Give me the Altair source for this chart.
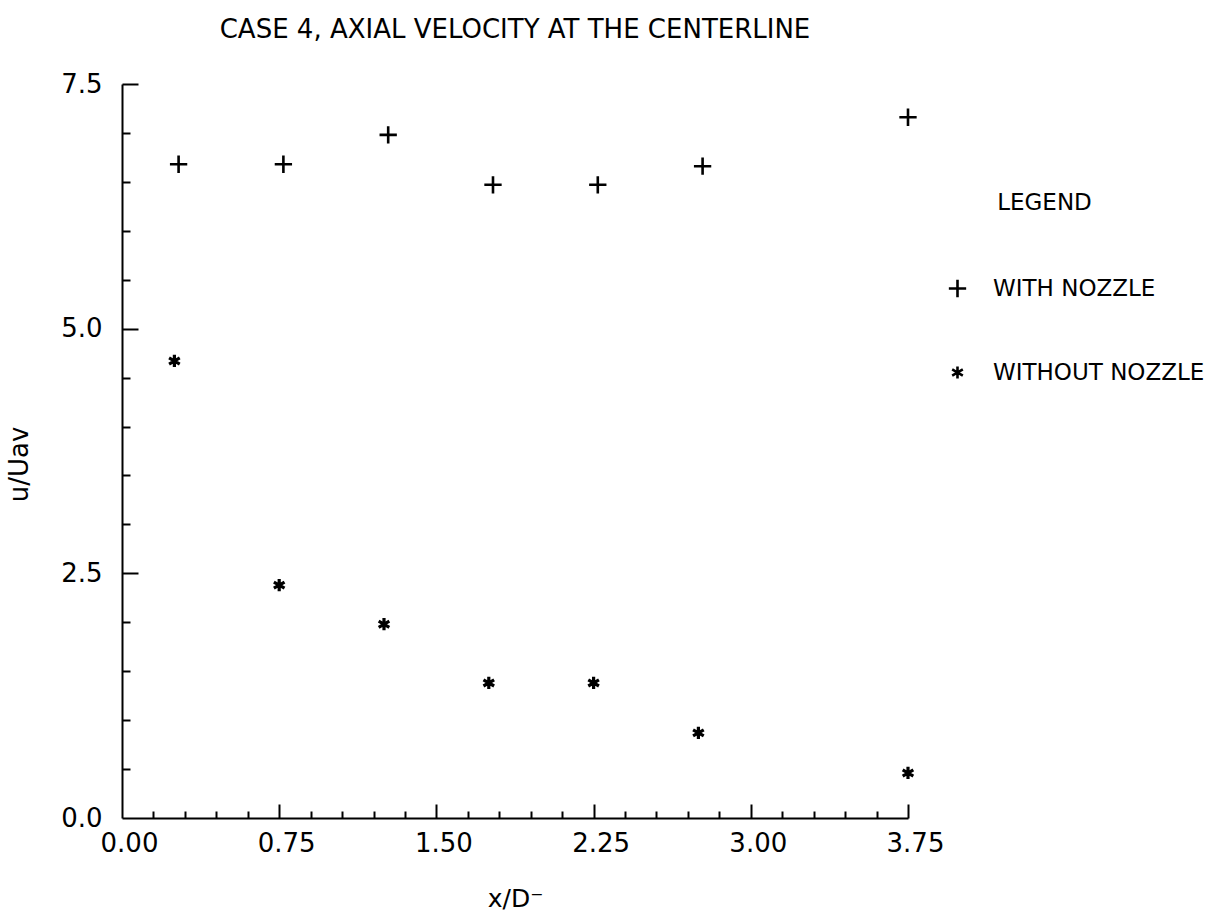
import altair as alt
import pandas as pd

# ---- data ----
series_names = ["WITH NOZZLE", "WITHOUT NOZZLE"]
x_with = [0.27, 0.77, 1.27, 1.77, 2.27, 2.77, 3.75]
y_with = [6.68, 6.68, 6.98, 6.47, 6.47, 6.66, 7.16]
x_without = [0.25, 0.75, 1.25, 1.75, 2.25, 2.75, 3.75]
y_without = [4.67, 2.38, 1.98, 1.38, 1.38, 0.87, 0.46]

x_label_values = [0.0, 0.75, 1.5, 2.25, 3.0, 3.75]
y_label_values = [0.0, 2.5, 5.0, 7.5]
x_tick_values = [0.15, 0.3, 0.45, 0.6, 0.75, 0.9, 1.05, 1.2, 1.35, 1.5, 1.65,
                 1.8, 1.95, 2.1, 2.25, 2.4, 2.55, 2.7, 2.85, 3.0, 3.15, 3.3,
                 3.45, 3.6, 3.75]
y_tick_values = [0.5, 1.0, 1.5, 2.0, 2.5, 3.0, 3.5, 4.0, 4.5, 5.0, 5.5, 6.0,
                 6.5, 7.0, 7.5]

df = pd.DataFrame({
    "x": x_with + x_without,
    "y": y_with + y_without,
    "series": [series_names[0]] * len(x_with) + [series_names[1]] * len(x_without),
})

PLUS = "M-1,0L1,0M0,-1L0,1"
STAR = "M0,-1L0,1M-0.87,-0.5L0.87,0.5M-0.87,0.5L0.87,-0.5"

FONT = "DejaVu Sans"
W, H = 786, 734

xscale = alt.Scale(domain=[0, 3.75], nice=False, zero=False)
yscale = alt.Scale(domain=[0, 7.5], nice=False, zero=False)
shape_scale = alt.Scale(domain=series_names, range=[PLUS, STAR])
size_scale = alt.Scale(domain=series_names, range=[300, 150])

legend = alt.Legend(
    title="\u200b" + "\u00a0" * 7 + "LEGEND",
    orient="none", legendX=824, legendY=108,
    titleFont=FONT, titleFontSize=23, titleFontWeight="normal", titleColor="black",
    titlePadding=62, titleAnchor="start",
    labelFont=FONT, labelFontSize=23, labelColor="black", labelLimit=0,
    labelOffset=24, rowPadding=58, padding=0,
    symbolStrokeColor="black", symbolFillColor="transparent",
    symbolStrokeWidth=2.6,
)

main_x_axis = alt.Axis(
    values=x_label_values, format=".2f", ticks=False, grid=False,
    domain=True, domainColor="black", domainWidth=2,
    labelFont=FONT, labelFontSize=26, labelColor="black",
    labelPadding=12, labelOffset=7, labelFlush=False, labelOverlap=False,
    title="x/D\u207b", titleFont=FONT, titleFontSize=25, titleFontWeight="normal",
    titleColor="black", titlePadding=30,
)
main_y_axis = alt.Axis(
    values=y_label_values, format=".1f", ticks=False, grid=False,
    domain=True, domainColor="black", domainWidth=2,
    labelFont=FONT, labelFontSize=26, labelColor="black",
    labelPadding=20, labelFlush=False, labelOverlap=False,
    title="u/Uav", titleFont=FONT, titleFontSize=26, titleFontWeight="normal",
    titleColor="black", titlePadding=28, titleY=380,
)
tick_x_axis = alt.Axis(
    orient="top", offset=-H, values=x_tick_values, labels=False, domain=False,
    grid=False, title=None, tickColor="black", tickWidth=2,
    tickSize={"condition": {"test": "abs(datum.value/0.75 - round(datum.value/0.75)) < 0.001",
                            "value": 14}, "value": 7},
)
tick_y_axis = alt.Axis(
    orient="right", offset=-W, values=y_tick_values, labels=False, domain=False,
    grid=False, title=None, tickColor="black", tickWidth=2,
    tickSize={"condition": {"test": "abs(datum.value/2.5 - round(datum.value/2.5)) < 0.001",
                            "value": 16}, "value": 8},
)

base = alt.Chart(df)

with_layer = base.transform_filter(alt.datum.series == series_names[0]).mark_point(
    filled=False, color="black", strokeWidth=2.6, opacity=1
).encode(
    x=alt.X("x:Q", scale=xscale, axis=main_x_axis),
    y=alt.Y("y:Q", scale=yscale, axis=main_y_axis),
    shape=alt.Shape("series:N", scale=shape_scale, legend=legend),
    size=alt.Size("series:N", scale=size_scale),
)

without_layer = base.transform_filter(alt.datum.series == series_names[1]).mark_point(
    filled=False, color="black", strokeWidth=3.2, opacity=1
).encode(
    x=alt.X("x:Q", scale=xscale, axis=tick_x_axis),
    y=alt.Y("y:Q", scale=yscale, axis=tick_y_axis),
    shape=alt.Shape("series:N", scale=shape_scale, legend=legend),
    size=alt.Size("series:N", scale=size_scale),
)

chart = alt.layer(with_layer, without_layer).resolve_axis(
    x="independent", y="independent"
).properties(
    width=W, height=H,
    autosize=alt.AutoSizeParams(type="none"),
    padding={"left": 122, "top": 84, "right": 314, "bottom": 95},
    background="white",
    title=alt.TitleParams(
        "CASE 4, AXIAL VELOCITY AT THE CENTERLINE",
        font=FONT, fontSize=26, fontWeight="normal", color="black",
        anchor="middle", offset=28,
    ),
).configure_view(stroke=None)

chart.save("out.html", embed_options={"renderer": "svg", "actions": False})
